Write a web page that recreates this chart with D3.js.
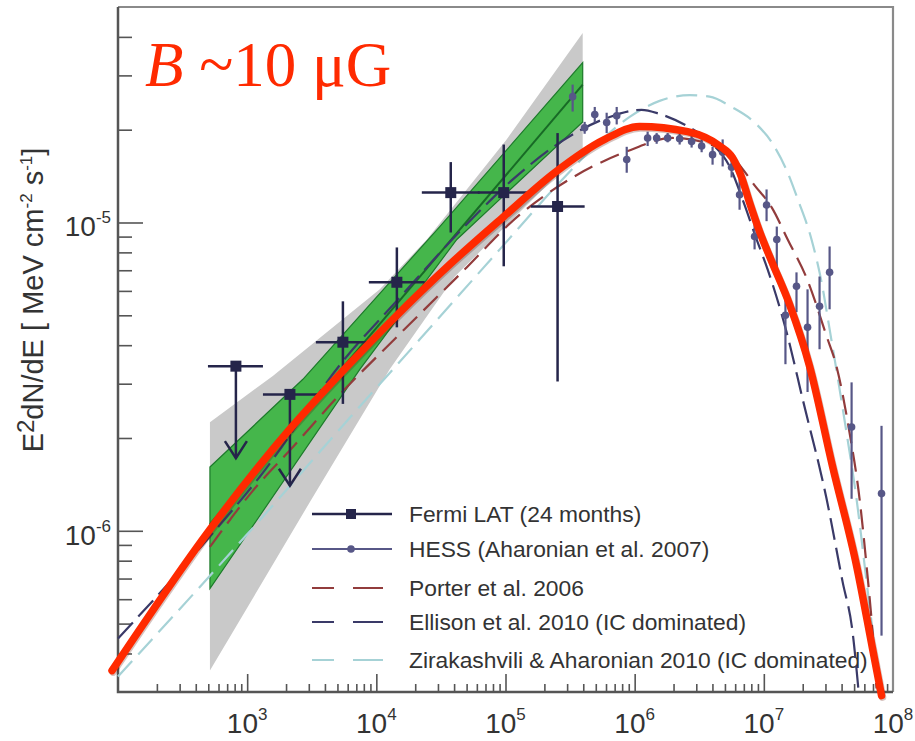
<!DOCTYPE html>
<html>
<head>
<meta charset="utf-8">
<script src="https://cdn.jsdelivr.net/npm/d3@7"></script>
<style>
  html, body { margin: 0; padding: 0; background: #fff; }
  svg { display: block; }
</style>
</head>
<body>
<div id="svg-container"></div>
<script>
// Fermi LAT (24 months): [E MeV, E2dN/dE, Elo, Ehi, Flo, Fhi]; Fhi null -> upper limit
const fermiPoints = [
  [818, 3.42e-6, 497, 1325, 1.72e-6, null],
  [2143, 2.77e-6, 1325, 3656, 1.4e-6, null],
  [5510, 4.09e-6, 3404, 8910, 2.58e-6, 5.55e-6],
  [14420, 6.4e-6, 8750, 23700, 4.57e-6, 8.3e-6],
  [37700, 1.25e-5, 22500, 63200, 9.28e-6, 1.57e-5],
  [96900, 1.25e-5, 61000, 160000, 7.21e-6, 1.79e-5],
  [253000, 1.127e-5, 157000, 410000, 3.05e-6, 1.95e-5],
]

// HESS (Aharonian et al. 2007): [E MeV, E2dN/dE, Flo, Fhi]
const hessPoints = [
  [3.31e5, 2.56e-5, 2.29e-5, 2.8e-5],
  [4.1e5, 2.03e-5, 1.94e-5, 2.12e-5],
  [4.91e5, 2.24e-5, 2.11e-5, 2.37e-5],
  [6.07e5, 2.11e-5, 1.95e-5, 2.27e-5],
  [7.26e5, 2.22e-5, 2.08e-5, 2.37e-5],
  [8.68e5, 1.6e-5, 1.45e-5, 1.76e-5],
  [1.26e6, 1.88e-5, 1.77e-5, 1.97e-5],
  [1.48e6, 1.88e-5, 1.8e-5, 1.95e-5],
  [1.8e6, 1.88e-5, 1.82e-5, 1.95e-5],
  [2.23e6, 1.87e-5, 1.79e-5, 1.94e-5],
  [2.76e6, 1.83e-5, 1.75e-5, 1.91e-5],
  [3.3e6, 1.77e-5, 1.69e-5, 1.86e-5],
  [4.01e6, 1.66e-5, 1.54e-5, 1.76e-5],
  [4.8e6, 1.69e-5, 1.52e-5, 1.86e-5],
  [5.63e6, 1.51e-5, 1.4e-5, 1.6e-5],
  [6.49e6, 1.23e-5, 1.1e-5, 1.38e-5],
  [8.48e6, 9.01e-6, 8.18e-6, 9.85e-6],
  [1.05e7, 1.14e-5, 1.01e-5, 1.28e-5],
  [1.26e7, 8.81e-6, 6.89e-6, 9.7e-6],
  [1.47e7, 5.0e-6, 3.47e-6, 6.07e-6],
  [1.79e7, 6.21e-6, 5.12e-6, 6.89e-6],
  [2.18e7, 4.57e-6, 2.82e-6, 6.07e-6],
  [2.7e7, 5.35e-6, 3.88e-6, 6.68e-6],
  [3.23e7, 6.89e-6, 5.23e-6, 8.36e-6],
  [4.78e7, 2.17e-6, 1.27e-6, 3.03e-6],
  [8.15e7, 1.32e-6, 4.57e-7, 2.19e-6],
]

// Fermi butterfly (stat) and systematic envelope: [E, E2dN/dE]
const statBandTop = [[515, 1.61e-6], [2700, 3.1e-6], [31000, 9.7e-6], [3.96e5, 3.3e-5]]
const statBandBottom = [[515, 6.49e-7], [7450, 3.34e-6], [42000, 8.81e-6], [3.96e5, 2.12e-5]]
const sysBandTop = [[515, 2.25e-6], [1580, 3.18e-6], [10640, 6.07e-6], [24600, 8.81e-6], [1.02e5, 1.86e-5], [3.96e5, 4.12e-5]]
const sysBandBottom = [[515, 3.52e-7], [3060, 1.24e-6], [12700, 3.34e-6], [40500, 6.68e-6], [3.96e5, 1.72e-5]]
const fermiFit = [[515, 1.05e-6], [3.96e5, 2.8e-5]]

// model curves: [E, E2dN/dE]
const porterCurve = [
  [515, 8.87e-7], [1109, 1.35e-6], [2260, 1.87e-6], [5220, 2.77e-6], [15200, 4.35e-6],
  [44300, 6.79e-6], [1.29e5, 1.06e-5], [3.31e5, 1.4e-5], [8.68e5, 1.7e-5], [1.97e6, 1.88e-5],
  [4.31e6, 1.76e-5], [6.27e6, 1.56e-5], [8.48e6, 1.32e-5], [1.15e7, 1.12e-5], [1.53e7, 8.81e-6],
  [2.18e7, 6.49e-6], [3.06e7, 4.28e-6], [3.65e7, 3.42e-6], [4.6e7, 2.09e-6], [5.51e7, 1.27e-6],
  [6.24e7, 7.71e-7], [6.94e7, 4.71e-7], [7.45e7, 3.08e-7],
]
const ellisonCurve = [
  [100, 4.47e-7], [489, 9.35e-7], [1256, 1.5e-6], [5510, 3.55e-6], [15200, 5.71e-6],
  [42000, 9.14e-6], [1.14e5, 1.38e-5], [3.31e5, 1.93e-5], [6.41e5, 2.2e-5], [1.13e6, 2.32e-5],
  [1.56e6, 2.25e-5], [2.57e6, 2.05e-5], [3.8e6, 1.83e-5], [5.43e6, 1.52e-5], [7.09e6, 1.14e-5],
  [8.79e6, 8.81e-6], [1.07e7, 7.05e-6], [1.5e7, 4.41e-6], [2.0e7, 2.67e-6], [3.06e7, 1.27e-6],
  [4.07e7, 6.84e-7], [4.86e7, 4.71e-7], [5.41e7, 3.03e-7],
]
const zirakashviliCurve = [
  [100, 3.37e-7], [515, 7.15e-7], [1422, 1.15e-6], [5220, 2.14e-6], [21700, 4.18e-6],
  [90300, 8.18e-6], [2.63e5, 1.35e-5], [5.36e5, 1.83e-5], [9.15e5, 2.2e-5], [1.56e6, 2.48e-5],
  [2.67e6, 2.59e-5], [3.8e6, 2.56e-5], [5.63e6, 2.37e-5], [8.48e6, 2.11e-5], [1.15e7, 1.82e-5],
  [1.53e7, 1.45e-5], [1.83e7, 1.19e-5], [2.34e7, 8.81e-6], [2.8e7, 6.4e-6], [3.23e7, 4.51e-6],
  [4.36e7, 2.09e-6], [5.22e7, 1.27e-6], [6.24e7, 6.84e-7], [6.94e7, 4.71e-7], [7.59e7, 3.03e-7],
]
// B ~ 10 uG model
const redCurve = [
  [89.9, 3.52e-7], [515, 1.01e-6], [2143, 2.14e-6], [5510, 3.3e-6], [14420, 5.0e-6],
  [37700, 7.36e-6], [96900, 1.045e-5], [2.4e5, 1.45e-5], [5.86e5, 1.86e-5], [1.09e6, 2.05e-5],
  [2.57e6, 1.97e-5], [4.55e6, 1.77e-5], [5.73e6, 1.62e-5], [6.73e6, 1.4e-5], [7.76e6, 1.16e-5],
  [9.27e6, 9.35e-6], [1.15e7, 7.48e-6], [1.58e7, 5.43e-6], [2.26e7, 3.42e-6], [3.4e7, 1.62e-6],
  [5.22e7, 7.71e-7], [6.94e7, 4.15e-7], [8.15e7, 2.92e-7],
]

const xTickValues = [1e3, 1e4, 1e5, 1e6, 1e7, 1e8]
const yTickValues = [1e-6, 1e-5]
const legendLabels = [
  'Fermi LAT (24 months)',
  'HESS (Aharonian et al. 2007)',
  'Porter et al. 2006',
  'Ellison et al. 2010 (IC dominated)',
  'Zirakashvili & Aharonian 2010 (IC dominated)',
]

const width = 915
const height = 741
const plotLeft = 118
const plotRight = 893
const plotTop = 7
const plotBottom = 692

const fermiColor = '#25254a'
const hessColor = '#575787'
const porterColor = '#923c3c'
const ellisonColor = '#3a3a68'
const ziraColor = '#a6d2d6'
const redColor = '#ff2a00'
const sans = "'Liberation Sans', Arial, Helvetica, sans-serif"

const svg = d3
  .select('#svg-container')
  .append('svg')
  .attr('width', width)
  .attr('height', height)
  .style('background', '#fff')

const xScale = d3.scaleLog().domain([1e2, 1e8]).range([plotLeft, plotRight])
const yScale = d3.scaleLog().domain([3e-7, 5e-5]).range([plotBottom, plotTop])

const line = d3
  .line()
  .x(d => xScale(d[0]))
  .y(d => yScale(d[1]))
  .curve(d3.curveMonotoneX)

const polygon = d3
  .line()
  .x(d => xScale(d[0]))
  .y(d => yScale(d[1]))
  .curve(d3.curveLinearClosed)

// minor tick values
const xMinor = []
for (let p = 2; p < 8; p += 1) {
  for (let m = 2; m <= 9; m += 1) xMinor.push(m * 10 ** p)
}
const yMinor = []
for (let p = -7; p <= -5; p += 1) {
  for (let m = 2; m <= 9; m += 1) {
    const v = m * 10 ** p
    if (v > 3.05e-7 && v < 4.95e-5) yMinor.push(v)
  }
}

// bands
svg
  .append('path')
  .attr('d', polygon(sysBandTop.concat(sysBandBottom.slice().reverse())))
  .attr('fill', '#c9c9c9')

svg
  .append('path')
  .attr('d', polygon(statBandTop.concat(statBandBottom.slice().reverse())))
  .attr('fill', '#45b64b')
  .attr('stroke', '#1d7a2b')
  .attr('stroke-width', 1.2)

svg
  .append('path')
  .attr('d', d3.line().x(d => xScale(d[0])).y(d => yScale(d[1]))(fermiFit))
  .attr('fill', 'none')
  .attr('stroke', '#186a26')
  .attr('stroke-width', 2)

// axes ticks (inside)
const xAxisG = svg.append('g').attr('transform', `translate(0,${plotBottom})`).attr('color', '#555')
xAxisG
  .append('g')
  .call(d3.axisBottom(xScale).tickValues(xMinor).tickSize(-8).tickSizeOuter(0).tickFormat(''))
xAxisG
  .append('g')
  .call(d3.axisBottom(xScale).tickValues(xTickValues.slice(0, -1)).tickSize(-18).tickSizeOuter(0).tickFormat(''))
xAxisG.selectAll('.domain').remove()
xAxisG.selectAll('.tick line').attr('stroke-width', 1.6)

const yAxisG = svg.append('g').attr('transform', `translate(${plotLeft},0)`).attr('color', '#555')
yAxisG
  .append('g')
  .call(d3.axisLeft(yScale).tickValues(yMinor).tickSize(-14).tickSizeOuter(0).tickFormat(''))
yAxisG
  .append('g')
  .call(d3.axisLeft(yScale).tickValues(yTickValues).tickSize(-25).tickSizeOuter(0).tickFormat(''))
yAxisG.selectAll('.domain').remove()
yAxisG.selectAll('.tick line').attr('stroke-width', 1.6)

// frame
svg
  .append('path')
  .attr('d', `M${plotLeft},${plotTop}H${plotRight}V${plotBottom}`)
  .attr('fill', 'none')
  .attr('stroke', '#8a8a8a')
  .attr('stroke-width', 2.2)
svg
  .append('path')
  .attr('d', `M${plotLeft},${plotTop}V${plotBottom}H${plotRight}`)
  .attr('fill', 'none')
  .attr('stroke', '#555')
  .attr('stroke-width', 2.5)

// tick labels
const xLabels = svg
  .append('g')
  .selectAll('text')
  .data(xTickValues)
  .join('text')
  .attr('x', d => xScale(d))
  .attr('y', 733)
  .attr('text-anchor', 'middle')
  .attr('font-family', sans)
  .attr('font-size', 28)
  .attr('fill', '#333')
xLabels.append('tspan').text('10')
xLabels
  .append('tspan')
  .attr('dy', -13)
  .attr('font-size', 17)
  .text(d => Math.round(Math.log10(d)))

const yLabels = svg
  .append('g')
  .selectAll('text')
  .data(yTickValues)
  .join('text')
  .attr('x', 111)
  .attr('y', d => yScale(d) + 14)
  .attr('text-anchor', 'end')
  .attr('font-family', sans)
  .attr('font-size', 28)
  .attr('fill', '#333')
yLabels.append('tspan').text('10')
yLabels
  .append('tspan')
  .attr('dy', -13)
  .attr('font-size', 17)
  .text(d => `-${Math.round(-Math.log10(d))}`)

// y axis title
const yTitle = svg
  .append('text')
  .attr('transform', 'translate(43,300) rotate(-90)')
  .attr('text-anchor', 'middle')
  .attr('font-family', sans)
  .attr('font-size', 29)
  .attr('fill', '#333')
yTitle.append('tspan').text('E')
yTitle.append('tspan').attr('dy', -9).attr('font-size', 24).text('2')
yTitle.append('tspan').attr('dy', 9).text('dN/dE [ MeV cm')
yTitle.append('tspan').attr('dy', -11).attr('font-size', 17).text('-2')
yTitle.append('tspan').attr('dy', 11).text(' s')
yTitle.append('tspan').attr('dy', -11).attr('font-size', 17).text('-1')
yTitle.append('tspan').attr('dy', 11).text(']')

// legend
const legendRows = [514, 549, 588, 622, 660]
const legendG = svg.append('g')
legendG
  .selectAll('text')
  .data(legendLabels)
  .join('text')
  .attr('x', 409)
  .attr('y', (d, i) => legendRows[i] + 8)
  .attr('font-family', sans)
  .attr('font-size', 22.8)
  .attr('fill', '#333')
  .text(d => d)

legendG
  .append('line')
  .attr('x1', 312).attr('x2', 392)
  .attr('y1', legendRows[0]).attr('y2', legendRows[0])
  .attr('stroke', fermiColor).attr('stroke-width', 2.5)
legendG
  .append('rect')
  .attr('x', 346).attr('y', legendRows[0] - 5)
  .attr('width', 10).attr('height', 10)
  .attr('fill', fermiColor)
legendG
  .append('line')
  .attr('x1', 312).attr('x2', 392)
  .attr('y1', legendRows[1]).attr('y2', legendRows[1])
  .attr('stroke', hessColor).attr('stroke-width', 2.2)
legendG
  .append('circle')
  .attr('cx', 351).attr('cy', legendRows[1]).attr('r', 3.8)
  .attr('fill', hessColor)
;[porterColor, ellisonColor, ziraColor].forEach((c, i) => {
  legendG
    .append('line')
    .attr('x1', 312).attr('x2', 383)
    .attr('y1', legendRows[i + 2]).attr('y2', legendRows[i + 2])
    .attr('stroke', c).attr('stroke-width', 2)
    .attr('stroke-dasharray', '22,19,30')
})

// model curves
const models = [
  [zirakashviliCurve, ziraColor, '21,9'],
  [porterCurve, porterColor, '20,9'],
  [ellisonCurve, ellisonColor, '22,8'],
]
models.forEach(([data, color, dash]) => {
  svg
    .append('path')
    .attr('d', line(data))
    .attr('fill', 'none')
    .attr('stroke', color)
    .attr('stroke-width', 2.2)
    .attr('stroke-dasharray', dash)
})

// HESS points
const hessG = svg.append('g').attr('stroke', hessColor).attr('fill', hessColor)
hessG
  .selectAll('line')
  .data(hessPoints)
  .join('line')
  .attr('x1', d => xScale(d[0]))
  .attr('x2', d => xScale(d[0]))
  .attr('y1', d => yScale(d[3]))
  .attr('y2', d => yScale(d[2]))
  .attr('stroke-width', 2.2)
hessG
  .selectAll('circle')
  .data(hessPoints)
  .join('circle')
  .attr('cx', d => xScale(d[0]))
  .attr('cy', d => yScale(d[1]))
  .attr('r', 3.8)
  .attr('stroke', 'none')

// Fermi points
const fermiG = svg.append('g').attr('stroke', fermiColor).attr('fill', 'none').attr('stroke-width', 2.5)
fermiPoints.forEach(([e, f, elo, ehi, flo, fhi]) => {
  const x = xScale(e)
  const y = yScale(f)
  fermiG.append('line').attr('x1', xScale(elo)).attr('x2', xScale(ehi)).attr('y1', y).attr('y2', y)
  if (fhi === null) {
    const yTip = yScale(flo)
    fermiG.append('line').attr('x1', x).attr('x2', x).attr('y1', y).attr('y2', yTip)
    fermiG
      .append('path')
      .attr('d', `M${x - 11},${yTip - 17}L${x},${yTip}L${x + 11},${yTip - 17}`)
  } else {
    fermiG.append('line').attr('x1', x).attr('x2', x).attr('y1', yScale(fhi)).attr('y2', yScale(flo))
  }
  fermiG
    .append('rect')
    .attr('x', x - 5.5).attr('y', y - 5.5)
    .attr('width', 11).attr('height', 11)
    .attr('fill', fermiColor)
    .attr('stroke', 'none')
})

// red model, B ~ 10 uG
svg
  .append('path')
  .attr('d', line(redCurve))
  .attr('transform', 'translate(1,1.5)')
  .attr('fill', 'none')
  .attr('stroke', '#5a1000')
  .attr('stroke-opacity', 0.25)
  .attr('stroke-width', 7.5)
  .attr('stroke-linecap', 'round')
svg
  .append('path')
  .attr('d', line(redCurve))
  .attr('fill', 'none')
  .attr('stroke', redColor)
  .attr('stroke-width', 7.5)
  .attr('stroke-linecap', 'round')
  .attr('stroke-linejoin', 'round')

const bText = svg
  .append('text')
  .attr('x', 145)
  .attr('y', 86)
  .attr('font-family', "'Liberation Serif', 'Times New Roman', serif")
  .attr('font-size', 63)
  .attr('fill', redColor)
bText.append('tspan').attr('font-style', 'italic').text('B')
bText.append('tspan').text(' ~10 μG')
</script>
</body>
</html>
